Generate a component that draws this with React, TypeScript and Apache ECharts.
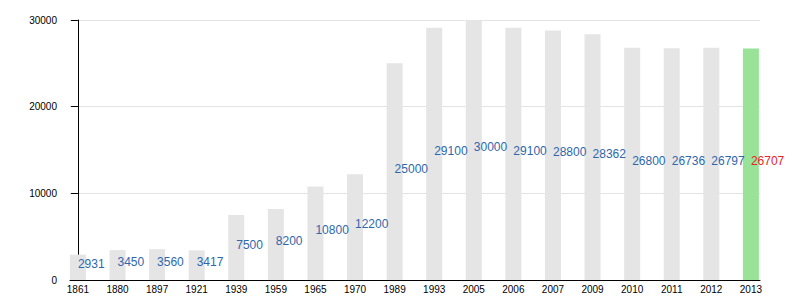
import React, { useEffect, useRef } from "react";
import * as echarts from "echarts";

const years = ["1861", "1880", "1897", "1921", "1939", "1959", "1965", "1970", "1989", "1993", "2005", "2006", "2007", "2009", "2010", "2011", "2012", "2013"];
const population = [2931, 3450, 3560, 3417, 7500, 8200, 10800, 12200, 25000, 29100, 30000, 29100, 28800, 28362, 26800, 26736, 26797, 26707];
const yTicks = [0, 10000, 20000, 30000];

export default function App() {
  const ref = useRef<HTMLDivElement>(null);
  useEffect(() => {
    if (!ref.current) return;
    const chart = echarts.init(ref.current, null, { renderer: "svg" });
    const last = population.length - 1;
    const data = population.map((v, i) => ({
      value: [i, v],
      itemStyle: { color: i === last ? "#98e398" : "#e5e5e5" },
      label: { color: i === last ? "#e8242a" : "#2e67ad" },
    }));
    chart.setOption({
      animation: false,
      grid: { left: 70, right: 40, top: 20, bottom: 20 },
      xAxis: {
        type: "value",
        min: -0.2,
        max: 17.23,
        axisLine: { show: true, lineStyle: { color: "#000", width: 1 } },
        axisTick: { show: false },
        splitLine: { show: false },
        axisLabel: {
          customValues: years.map((_, i) => i),
          formatter: (v: number) => years[Math.round(v)] ?? "",
          color: "#000",
          fontSize: 10,
          fontFamily: "Liberation Sans, Arial, sans-serif",
          margin: 4,
        },
      },
      yAxis: {
        type: "value",
        min: 0,
        max: 30000,
        interval: 10000,
        axisLine: { show: true, lineStyle: { color: "#000", width: 1 } },
        axisTick: { show: true, length: 7, lineStyle: { color: "#000" } },
        splitLine: { show: true, lineStyle: { color: "#e3e3e3" } },
        axisLabel: {
          customValues: yTicks,
          formatter: (v: number) => String(v),
          color: "#000",
          fontSize: 10,
          fontFamily: "Liberation Sans, Arial, sans-serif",
          margin: 13,
        },
      },
      series: [
        {
          type: "bar",
          barWidth: 16,
          data,
          label: {
            show: true,
            position: ["50%", "50%"],
            align: "left",
            verticalAlign: "middle",
            offset: [0, -3],
            fontSize: 12,
            fontFamily: "Liberation Sans, Arial, sans-serif",
            formatter: (p: any) => String(p.value[1]),
          },
        },
      ],
    });
    return () => chart.dispose();
  }, []);
  return <div ref={ref} style={{ position: "fixed", left: 0, top: 0, width: 800, height: 300, background: "#fff" }} />;
}
